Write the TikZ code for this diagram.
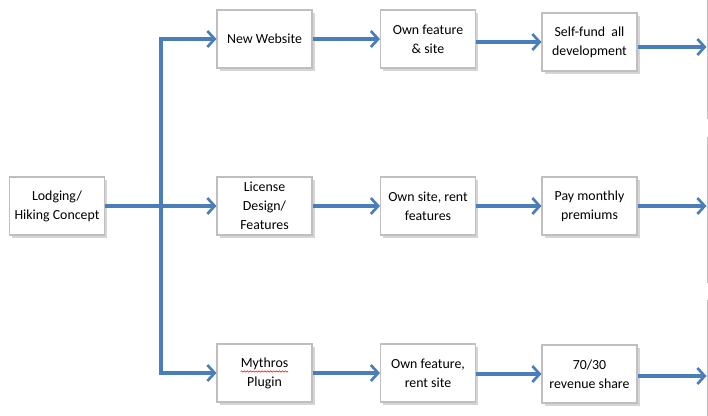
\documentclass[tikz,border=0pt]{standalone}
\usepackage{fontspec}
\setmainfont{Carlito}
\usetikzlibrary{arrows.meta,shadows,calc,decorations.pathmorphing}
\definecolor{arrowblue}{HTML}{4A7EBB}
\definecolor{boxgray}{HTML}{BFBFBF}
\begin{document}
\begin{tikzpicture}[x=0.75pt,y=-0.75pt,
  box/.style={draw=boxgray, line width=0.8pt, fill=white, minimum width=71.25pt, minimum height=43.5pt,
    align=center, inner sep=1pt, font=\fontsize{10.4}{14.25}\selectfont,
    drop shadow={shadow xshift=2pt,shadow yshift=-2.2pt,opacity=0.3,fill=black!55}},
  edgebox/.style={draw=boxgray, line width=0.8pt, fill=white, minimum width=75pt, anchor=north west},
  flow/.style={draw=arrowblue, line width=2.8pt, -{Straight Barb[length=5.5pt,width=12pt,line width=2pt]}},
  ]
\useasboundingbox (0,0) rectangle (708,416);
\clip (0,0) rectangle (708,416);
% partial boxes at the right edge
\node[edgebox, minimum height=103.5pt] (r1) at (706.5,-20) {};
\node[edgebox, minimum height=108.75pt] (r2) at (706.5,137) {};
\node[edgebox, minimum height=105pt] (r3) at (706.5,300) {};
% boxes
\node[box] (L) at (57,206) {Lodging/\\Hiking Concept};
\node[box] (n1) at (264.5,39) {New Website};
\node[box] (n2) at (264.5,206) {License\\Design/\\Features};
\node[box] (n3) at (264.5,373) {Mythros\\Plugin};
\node[box] (o1) at (428,39) {Own feature\\\& site};
\node[box] (o2) at (428,206) {Own site, rent\\features};
\node[box] (o3) at (428,373) {Own feature,\\rent site};
\node[box] (s1) at (589.5,42) {Self-fund\ \ all\\development};
\node[box] (s2) at (589.5,206) {Pay monthly\\premiums};
\node[box] (s3) at (589.5,374) {70/30\\revenue share};
% spell-check squiggle under Mythros
\draw[red, line width=0.4pt, decorate, decoration={snake, amplitude=0.5pt, segment length=2.2pt}]
  ($(n3.center)+(-24,-1.5)$) -- ($(n3.center)+(23.5,-1.5)$);
% trunk
\coordinate (j) at (161,206);
\draw[draw=arrowblue, line width=2.8pt] (L.east) -- (j);
\draw[flow, {Straight Barb[length=5.5pt,width=12pt,line width=2pt]}-{Straight Barb[length=5.5pt,width=12pt,line width=2pt]}]
  (n1.west) -- (j |- n1) -- (j |- n3) -- (n3.west);
\draw[flow] (j) -- (n2.west);
% rows
\draw[flow] (n1.east) -- (o1.west);
\draw[flow] (o1.east |- s1) -- (s1.west);
\draw[flow] (n2.east) -- (o2.west);
\draw[flow] (o2.east) -- (s2.west);
\draw[flow] (n3.east) -- (o3.west);
\draw[flow] (o3.east |- s3) -- (s3.west);
% outgoing arrows
\draw[flow] ($(s1.east)+(0,5)$) coordinate (a1) -- (r1.west |- a1);
\draw[flow] (s2.east) -- (r2.west |- s2);
\draw[flow] ($(s3.east)+(0,2)$) coordinate (a3) -- (r3.west |- a3);
\end{tikzpicture}
\end{document}
